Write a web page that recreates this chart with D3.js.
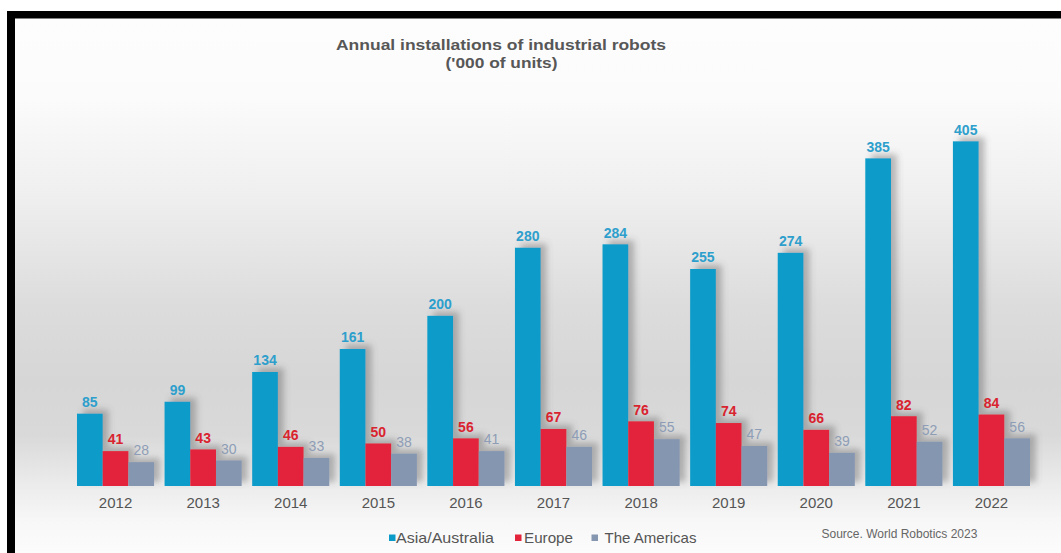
<!DOCTYPE html>
<html>
<head>
<meta charset="utf-8">
<script src="https://cdn.jsdelivr.net/npm/d3@7"></script>
<style>
  html, body { margin: 0; padding: 0; background: #fff; }
  svg { display: block; font-family: "Liberation Sans", Arial, sans-serif; }
</style>
</head>
<body>
<svg id="chart" width="1061" height="553"></svg>
<script>
// Annual installations of industrial robots, thousands of units
const years = ["2012","2013","2014","2015","2016","2017","2018","2019","2020","2021","2022"];
const seriesNames = ["Asia/Australia", "Europe", "The Americas"];
const asiaAustralia = [85, 99, 134, 161, 200, 280, 284, 255, 274, 385, 405];
const europe = [41, 43, 46, 50, 56, 67, 76, 74, 66, 82, 84];
const theAmericas = [28, 30, 33, 38, 41, 46, 55, 47, 39, 52, 56];

const seriesValues = [asiaAustralia, europe, theAmericas];
const barColors = ["#0a9bc9", "#e3243a", "#8596b1"];
const labelColors = ["#2e9fcc", "#d9232f", "#8e9db5"];
const labelWeights = ["bold", "bold", "normal"];

const svg = d3.select("#chart");
const W = 1061, H = 553;

// background panel with vertical grey gradient
const defs = svg.append("defs");
const grad = defs.append("linearGradient")
  .attr("id", "bg").attr("x1", 0).attr("y1", 0).attr("x2", 0).attr("y2", 1);
[[0, "#fdfdfd"], [0.15, "#fbfbfb"], [0.33, "#efefef"], [0.54, "#dcdcdc"],
 [0.68, "#d6d6d6"], [0.78, "#d9d9d9"], [0.87, "#ebebeb"], [0.94, "#f7f7f7"], [1, "#fcfcfc"]]
  .forEach(([o, c]) => grad.append("stop").attr("offset", o).attr("stop-color", c));

const shadow = defs.append("filter").attr("id", "barShadow")
  .attr("x", "-20%").attr("y", "-20%").attr("width", "150%").attr("height", "140%");
shadow.append("feGaussianBlur").attr("in", "SourceAlpha").attr("stdDeviation", 3).attr("result", "blur");
shadow.append("feOffset").attr("in", "blur").attr("dx", 6).attr("dy", -4).attr("result", "off");
shadow.append("feFlood").attr("flood-color", "#555").attr("flood-opacity", 0.38);
shadow.append("feComposite").attr("in2", "off").attr("operator", "in").attr("result", "sh");
const merge = shadow.append("feMerge");
merge.append("feMergeNode").attr("in", "sh");
merge.append("feMergeNode").attr("in", "SourceGraphic");

svg.append("rect").attr("x", 0).attr("y", 0).attr("width", W).attr("height", H).attr("fill", "#fff");
svg.append("rect").attr("x", 15).attr("y", 18).attr("width", W - 15).attr("height", H - 18).attr("fill", "url(#bg)");
// frame
svg.append("rect").attr("x", 7).attr("y", 11).attr("width", W - 7).attr("height", 7.5).attr("fill", "#000");
svg.append("rect").attr("x", 7).attr("y", 11).attr("width", 8).attr("height", H - 11).attr("fill", "#000");

// scales
const x = d3.scaleBand().domain(years).range([77, 1030]).paddingInner(0.12).paddingOuter(0);
const xs = d3.scaleBand().domain(d3.range(seriesNames.length)).range([0, x.bandwidth()]).padding(0);
const baseY = 486;
const y = d3.scaleLinear().domain([0, 450]).range([baseY, baseY - 450 * 0.851]);

// title
const title = svg.append("g").attr("fill", "#575757").attr("font-weight", "bold")
  .attr("font-size", 15).attr("text-anchor", "middle");
title.append("text").attr("x", 501).attr("y", 50)
  .attr("textLength", 330).attr("lengthAdjust", "spacingAndGlyphs")
  .text("Annual installations of industrial robots");
title.append("text").attr("x", 501.5).attr("y", 68)
  .attr("textLength", 112).attr("lengthAdjust", "spacingAndGlyphs")
  .text("('000 of units)");

// bars
const groups = svg.append("g").selectAll("g.year")
  .data(years).join("g")
  .attr("class", "year")
  .attr("transform", d => `translate(${x(d)},0)`);

const barsLayer = groups.append("g").attr("filter", "url(#barShadow)");
barsLayer.selectAll("rect")
  .data((d, i) => seriesValues.map((vals, s) => ({ s, v: vals[i] })))
  .join("rect")
  .attr("x", d => xs(d.s))
  .attr("width", xs.bandwidth())
  .attr("y", d => y(d.v))
  .attr("height", d => baseY - y(d.v))
  .attr("fill", d => barColors[d.s]);

// value labels
groups.selectAll("text.val")
  .data((d, i) => seriesValues.map((vals, s) => ({ s, v: vals[i] })))
  .join("text")
  .attr("class", "val")
  .attr("x", d => xs(d.s) + xs.bandwidth() / 2)
  .attr("y", d => y(d.v) - 6.7)
  .attr("text-anchor", "middle")
  .attr("font-size", 14)
  .attr("font-weight", d => labelWeights[d.s])
  .attr("fill", d => labelColors[d.s])
  .text(d => d.v);

// category axis
const axis = svg.append("g").attr("transform", `translate(0,${baseY})`)
  .call(d3.axisBottom(x).tickSize(0).tickPadding(11.6));
axis.select(".domain").remove();
axis.selectAll("text").attr("font-size", 15).attr("fill", "#555")
  .attr("font-family", "'Liberation Sans', Arial, sans-serif");

// legend
const legendX = [389, 515, 591.5];
const legend = svg.append("g").selectAll("g")
  .data(seriesNames).join("g")
  .attr("transform", (d, i) => `translate(${legendX[i]},0)`);
legend.append("rect").attr("x", 0).attr("y", 534.5).attr("width", 6.5).attr("height", 6.5)
  .attr("fill", (d, i) => barColors[i]);
legend.append("text").attr("x", (d, i) => [7, 9, 13][i]).attr("y", 543)
  .attr("font-size", 15).attr("fill", "#555")
  .attr("textLength", (d, i) => [98, 49, 92][i]).attr("lengthAdjust", "spacingAndGlyphs")
  .text(d => d);

// source note
svg.append("text").attr("x", 821.5).attr("y", 537.5).attr("font-size", 12).attr("fill", "#666")
  .text("Source. World Robotics 2023");
</script>
</body>
</html>
